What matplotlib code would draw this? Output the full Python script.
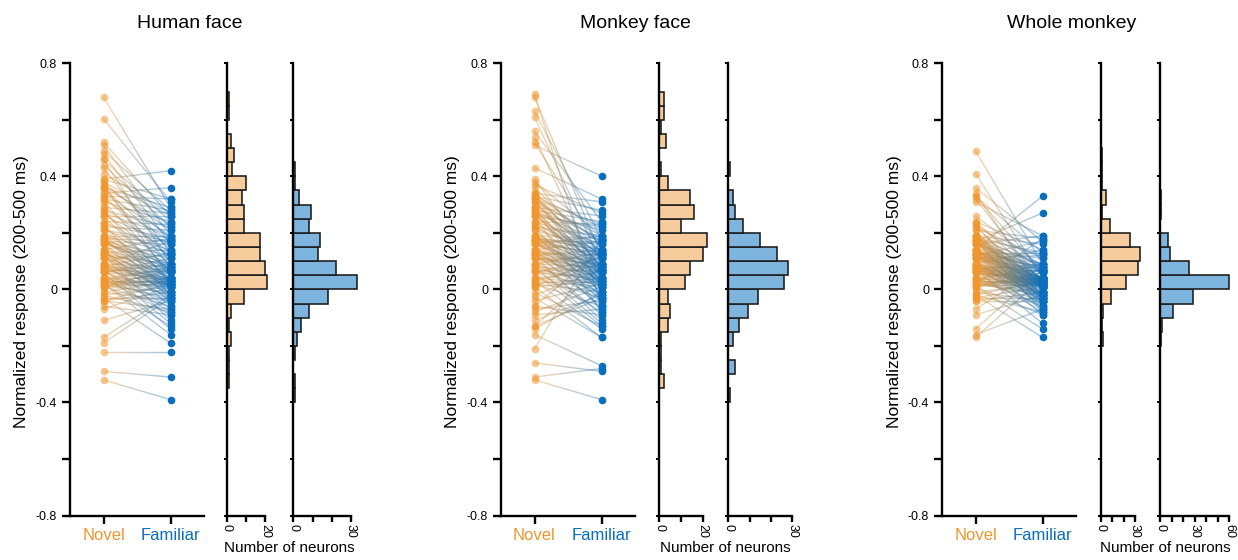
import numpy as np
import matplotlib.pyplot as plt
from matplotlib.collections import LineCollection
from matplotlib.colors import to_rgba

plt.rcParams["font.family"] = ["Liberation Sans", "DejaVu Sans"]

# --------------------------------------------------
# Data (one value per neuron, novel/familiar paired by index)
# --------------------------------------------------

titles = ["Human face", "Monkey face", "Whole monkey"]

hf_novel = [
    0.68, 0.604, 0.52, 0.51, 0.49, 0.48, 0.46, 0.46, 0.44, 0.43, 0.41,
    0.39, 0.39, 0.38, 0.38, 0.37, 0.37, 0.36, 0.36, 0.36, 0.36,
    0.34, 0.34, 0.33, 0.33, 0.32, 0.32, 0.31, 0.31,
    0.29, 0.29, 0.28, 0.28, 0.27, 0.27, 0.26, 0.26, 0.26,
    0.24, 0.24, 0.23, 0.23, 0.22, 0.22, 0.21, 0.21, 0.21,
    0.19, 0.19, 0.19, 0.19, 0.18, 0.18, 0.18, 0.18, 0.17, 0.17, 0.17, 0.17, 0.17, 0.16, 0.16, 0.16, 0.16,
    0.14, 0.14, 0.14, 0.14, 0.13, 0.13, 0.13, 0.13, 0.13, 0.12, 0.12, 0.12, 0.12, 0.11, 0.11, 0.11, 0.11,
    0.09, 0.09, 0.09, 0.09, 0.09, 0.08, 0.08, 0.08, 0.08, 0.08, 0.07, 0.07, 0.07, 0.07, 0.07, 0.06, 0.06, 0.06, 0.06, 0.06,
    0.04, 0.04, 0.04, 0.04, 0.04, 0.03, 0.03, 0.03, 0.03, 0.03, 0.02, 0.02, 0.02, 0.02, 0.02, 0.02, 0.01, 0.01, 0.01, 0.01, 0.01,
    -0.01, -0.01, -0.02, -0.02, -0.03, -0.03, -0.04, -0.04, -0.04,
    -0.06, -0.07, -0.11, -0.17, -0.19, -0.22, -0.29, -0.32,
]
hf_familiar = [
    0.29, 0.31, 0.26, 0.19, 0.28, 0.16, 0.24, 0.09, 0.22, 0.13, 0.27,
    0.42, 0.32, 0.18, 0.26, 0.04, 0.21, 0.29, 0.14, 0.23, 0.08,
    0.36, 0.19, 0.32, 0.11, 0.28, 0.17, 0.06, 0.24,
    0.27, 0.13, 0.02, 0.22, 0.19, 0.09, 0.16, 0.26, 0.03,
    0.23, 0.12, 0.18, -0.02, 0.07, 0.21, 0.14, 0.04, 0.17,
    0.19, 0.09, 0.03, 0.13, 0.17, 0.02, 0.08, -0.01, 0.12, 0.06, 0.04, 0.16, 0.07, 0.01, 0.11, -0.03, 0.09,
    0.18, 0.04, -0.06, 0.08, 0.02, 0.14, -0.02, 0.03, 0.07, -0.11, 0.01, 0.09, -0.04, 0.06, 0.02, 0.12, -0.01,
    0.17, 0.03, 0.08, -0.07, 0.01, 0.13, 0.04, -0.03, 0.02, 0.07, -0.12, 0.06, 0.01, -0.08, 0.03, 0.11, 0.04, -0.01, 0.09, -0.14,
    0.07, -0.02, 0.02, 0.04, -0.09, 0.01, 0.03, -0.04, 0.08, 0.02, -0.13, 0.01, 0.06, -0.03, 0.03, -0.16, 0.02, 0.04, -0.01, 0.07, -0.06,
    0.03, -0.04, -0.08, 0.01, -0.03, -0.19, 0.02, -0.07, -0.01,
    -0.09, 0.01, -0.04, -0.02, -0.03, -0.22, -0.31, -0.39,
]

mf_novel = [
    0.69, 0.68, 0.63, 0.61, 0.56, 0.54, 0.52, 0.51, 0.43, 0.39, 0.38, 0.37, 0.36,
    0.34, 0.34, 0.34, 0.33, 0.33, 0.33, 0.33, 0.32, 0.32, 0.32, 0.32, 0.31, 0.31, 0.31,
    0.29, 0.29, 0.29, 0.29, 0.28, 0.28, 0.28, 0.28, 0.27, 0.27, 0.27, 0.27, 0.26, 0.26, 0.26, 0.26,
    0.24, 0.24, 0.24, 0.23, 0.23, 0.22, 0.22, 0.22, 0.21, 0.21,
    0.19, 0.19, 0.19, 0.19, 0.19, 0.19, 0.18, 0.18, 0.18, 0.18, 0.18,
    0.17, 0.17, 0.17, 0.17, 0.17, 0.17, 0.16, 0.16, 0.16, 0.16, 0.16,
    0.14, 0.14, 0.14, 0.14, 0.14, 0.13, 0.13, 0.13, 0.13, 0.13,
    0.12, 0.12, 0.12, 0.12, 0.12, 0.11, 0.11, 0.11, 0.11, 0.11,
    0.09, 0.09, 0.09, 0.09, 0.08, 0.08, 0.08, 0.07, 0.07, 0.07, 0.07, 0.06, 0.06, 0.06,
    0.04, 0.04, 0.04, 0.03, 0.03, 0.03, 0.02, 0.02, 0.02, 0.01, 0.01, 0.01,
    -0.01, -0.02, -0.03, -0.04, -0.06, -0.06, -0.07, -0.08, -0.09, -0.11, -0.13, -0.13, -0.14,
    -0.16, -0.21, -0.26, -0.31, -0.32,
]
mf_familiar = [
    -0.06, 0.12, 0.18, 0.09, 0.24, 0.03, 0.14, 0.401, 0.32, 0.07, 0.19, 0.27, 0.13,
    0.31, 0.16, 0.08, 0.22, 0.04, 0.28, 0.11, 0.17, 0.02, 0.23, 0.13, 0.06, 0.19, 0.09,
    0.26, 0.12, 0.01, 0.18, 0.07, 0.24, -0.02, 0.14, 0.08, 0.21, 0.03, 0.17, 0.11, -0.08, 0.22, 0.06,
    0.23, 0.09, 0.16, 0.04, 0.13, -0.03, 0.19, 0.12, 0.02, 0.14,
    0.18, 0.07, 0.13, 0.02, 0.09, -0.01, 0.16, 0.11, 0.04, 0.08, 0.14,
    -0.04, 0.06, 0.12, 0.01, 0.17, 0.03, 0.08, -0.07, 0.13, 0.06, 0.19,
    0.17, 0.04, 0.09, -0.02, 0.07, 0.12, 0.01, -0.06, 0.08, 0.03,
    0.14, -0.11, 0.06, 0.02, -0.03, 0.11, 0.07, 0.04, -0.09, 0.09,
    0.02, 0.08, -0.04, 0.13, 0.01, -0.12, 0.06, 0.03, -0.01, 0.07, -0.08, 0.04, 0.11, -0.13,
    0.06, -0.03, 0.02, 0.09, -0.14, 0.01, -0.06, 0.04, -0.01, 0.12, -0.17, 0.03,
    -0.13, 0.07, -0.17, 0.02, -0.09, 0.14, -0.04, 0.01, -0.07, -0.02, 0.08, -0.03, -0.01,
    -0.27, 0.18, -0.29, -0.28, -0.39,
]

wm_novel = [
    0.49, 0.41, 0.36, 0.34, 0.33, 0.33, 0.32, 0.31, 0.26,
    0.24, 0.24, 0.23, 0.23, 0.22, 0.22, 0.21, 0.21,
    0.19, 0.19, 0.19, 0.19, 0.19, 0.19, 0.19, 0.18, 0.18, 0.18, 0.18, 0.18, 0.18,
    0.17, 0.17, 0.17, 0.17, 0.17, 0.17, 0.17, 0.16, 0.16, 0.16, 0.16, 0.16, 0.16,
    0.14, 0.14, 0.14, 0.14, 0.14, 0.14, 0.14, 0.14, 0.14, 0.13, 0.13, 0.13, 0.13, 0.13, 0.13, 0.13, 0.13,
    0.12, 0.12, 0.12, 0.12, 0.12, 0.12, 0.12, 0.12, 0.12, 0.11, 0.11, 0.11, 0.11, 0.11, 0.11, 0.11, 0.11,
    0.09, 0.09, 0.09, 0.09, 0.09, 0.09, 0.09, 0.09, 0.08, 0.08, 0.08, 0.08, 0.08, 0.08, 0.08, 0.08, 0.08,
    0.07, 0.07, 0.07, 0.07, 0.07, 0.07, 0.07, 0.07, 0.06, 0.06, 0.06, 0.06, 0.06, 0.06, 0.06, 0.06,
    0.04, 0.04, 0.04, 0.04, 0.04, 0.04, 0.03, 0.03, 0.03, 0.03, 0.03,
    0.02, 0.02, 0.02, 0.02, 0.02, 0.02, 0.01, 0.01, 0.01, 0.01, 0.01,
    -0.01, -0.01, -0.02, -0.02, -0.02, -0.03, -0.03, -0.04, -0.04, -0.07, -0.09, -0.14, -0.16, -0.17,
]
wm_familiar = [
    0.09, 0.04, 0.17, -0.01, 0.13, 0.06, 0.02, 0.19, 0.08,
    0.03, 0.14, -0.03, 0.07, 0.11, 0.01, -0.06, 0.18,
    0.12, 0.04, -0.02, 0.08, 0.02, 0.16, -0.04, 0.06, 0.03, 0.09, -0.08, 0.01, 0.13,
    0.04, 0.07, -0.01, 0.02, 0.27, 0.03, -0.07, 0.09, 0.01, 0.19, -0.03, 0.06, 0.04,
    0.04, 0.33, 0.02, -0.01, 0.07, 0.03, 0.11, -0.03, 0.01, 0.08, 0.04, -0.02, 0.09, 0.02, -0.06, 0.03, 0.13,
    0.01, -0.04, 0.06, 0.04, 0.17, 0.02, -0.01, 0.08, 0.03, -0.09, 0.07, 0.01, 0.04, -0.02, 0.12, 0.03, -0.03,
    0.02, -0.04, 0.03, 0.06, 0.01, -0.02, 0.04, 0.14, 0.02, -0.07, 0.03, 0.01, -0.01, 0.08, 0.02, -0.03, 0.04,
    0.01, -0.12, 0.03, 0.07, 0.02, -0.04, 0.01, 0.09, 0.03, -0.08, 0.04, 0.02, -0.01, 0.01, 0.03, -0.02,
    0.01, 0.07, -0.03, 0.02, 0.04, -0.06, 0.03, 0.01, -0.04, 0.09, 0.02,
    -0.01, 0.04, 0.18, 0.03, -0.02, 0.01, 0.06, -0.09, 0.02, 0.04, -0.14,
    -0.04, 0.02, -0.17, 0.03, -0.08, 0.01, -0.03, -0.01, -0.04, 0.08, -0.02, 0.07, -0.07, 0.04,
]

novel_sets = [hf_novel, mf_novel, wm_novel]
familiar_sets = [hf_familiar, mf_familiar, wm_familiar]

# histogram count axes: upper limit and labelled ticks
novel_hist_max = [20, 20, 30]
familiar_hist_max = [30, 30, 60]
novel_hist_labels = [[0, 20], [0, 20], [0, 30]]
familiar_hist_labels = [[0, 30], [0, 30], [0, 30, 60]]

# --------------------------------------------------
# Style
# --------------------------------------------------

NOVEL = "#F0962E"
FAMILIAR = "#0A6EBF"
NOVEL_FILL = "#F6CC9C"
FAMILIAR_FILL = "#7DB5DF"
EDGE = "#1a1a1a"
SPINE_W = 1.7

W, H = 1238, 560
fig = plt.figure(figsize=(W / 100, H / 100), dpi=100)

y_bot_px, y_top_px = 515.5, 63.3
ax_bottom = (H - y_bot_px) / H
ax_height = (y_bot_px - y_top_px) / H

# pixel layout per panel: scatter left, hist1 left/width, hist2 left/width, title x
layout = [
    (70, 226.7, 38.6, 293.3, 57.7, 190),
    (501, 659.3, 43.4, 728.3, 64.0, 635),
    (942, 1100.7, 34.3, 1160, 69.3, 1072),
]

bins = np.round(np.arange(-16, 17) * 0.05, 2)
yticks = np.round(np.arange(-4, 5) * 0.2, 1)
ytick_labels = ["-0.8", "", "-0.4", "", "0", "", "0.4", "", "0.8"]


def add_ax(x0, width):
    return fig.add_axes([x0 / W, ax_bottom, width / W, ax_height])


def clean(ax):
    for s in ("top", "right"):
        ax.spines[s].set_visible(False)
    for s in ("left", "bottom"):
        ax.spines[s].set_linewidth(SPINE_W)


def draw_hist(ax, values, fill, xmax, labelled):
    _, _, patches = ax.hist(values, bins=bins, orientation="horizontal",
                            color=fill, edgecolor=EDGE, linewidth=1.15)
    for p in patches:
        p.set_clip_on(False)
    clean(ax)
    ax.set_ylim(-0.8, 0.8)
    ax.set_xlim(0, xmax)
    ax.set_yticks(yticks)
    ax.set_yticklabels([])
    ticks = np.arange(0, xmax + 1, 10)
    ax.set_xticks(ticks)
    ax.set_xticklabels([str(t) if t in labelled else "" for t in ticks],
                       rotation=-90, fontsize=9)
    ax.tick_params(axis="y", direction="out", length=2, width=1.4)
    ax.tick_params(axis="x", direction="out", length=4.3, width=SPINE_W, pad=2)


c0 = np.array(to_rgba(NOVEL))
c1 = np.array(to_rgba(FAMILIAR))
t = np.linspace(0, 1, 17)

for i in range(3):
    sx, h1x, h1w, h2x, h2w, tx = layout[i]
    nov = novel_sets[i]
    fam = familiar_sets[i]

    # ---- paired scatter ----
    ax = add_ax(sx, 134)
    segs, cols = [], []
    for n, f in zip(nov, fam):
        pts = np.column_stack([t, n + (f - n) * t])
        for k in range(len(t) - 1):
            segs.append(pts[k:k + 2])
            m = (t[k] + t[k + 1]) / 2
            c = c0 * (1 - m) + c1 * m
            c[3] = 0.4
            cols.append(c)
    ax.add_collection(LineCollection(segs, colors=cols, linewidths=1.0,
                                     capstyle="butt", zorder=2))
    ax.scatter(np.zeros(len(nov)), nov, s=30, color=NOVEL, alpha=0.55,
               linewidths=0, zorder=3)
    ax.scatter(np.ones(len(fam)), fam, s=30, color=FAMILIAR,
               linewidths=0, zorder=4)

    clean(ax)
    ax.set_xlim(-0.5, 1.5)
    ax.set_ylim(-0.8, 0.8)
    ax.set_yticks(yticks)
    ax.set_yticklabels(ytick_labels)
    ax.set_xticks([0, 1])
    ax.set_xticklabels(["Novel", "Familiar"], fontsize=12)
    for lab, col in zip(ax.get_xticklabels(), [NOVEL, FAMILIAR]):
        lab.set_color(col)
    ax.tick_params(axis="y", direction="out", length=5.8, width=SPINE_W,
                   labelsize=9, pad=3.4)
    ax.tick_params(axis="x", direction="out", length=5.8, width=SPINE_W, pad=3)

    fig.text((sx - 48) / W, 1 - 292 / H, "Normalized response (200-500 ms)",
             rotation=90, ha="center", va="center", fontsize=12.5)
    fig.text(tx / W, 1 - 23 / H, titles[i], ha="center", va="center",
             fontsize=14)

    # ---- histograms ----
    h1 = add_ax(h1x, h1w)
    draw_hist(h1, nov, NOVEL_FILL, novel_hist_max[i], novel_hist_labels[i])
    h2 = add_ax(h2x, h2w)
    draw_hist(h2, fam, FAMILIAR_FILL, familiar_hist_max[i],
              familiar_hist_labels[i])

    fig.text((h1x + h2x + h2w) / 2 / W, 1 - 548 / H, "Number of neurons",
             ha="center", va="center", fontsize=11)

fig.savefig("out.png", dpi=100)
plt.close(fig)
